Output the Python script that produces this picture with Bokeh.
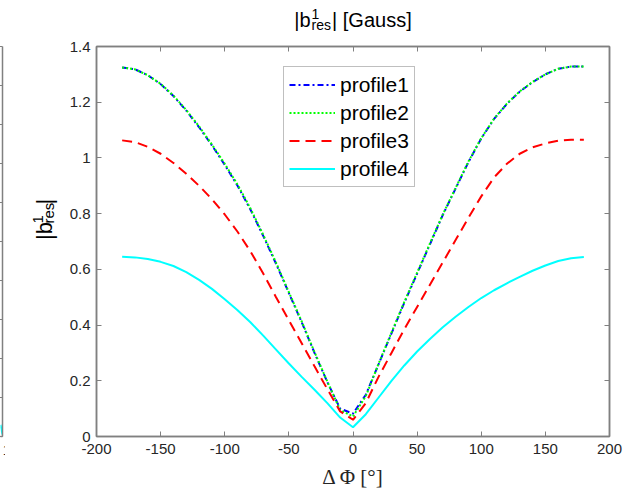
import math
from bokeh.plotting import figure
from bokeh.models import (Range1d, LinearAxis, FixedTicker, Legend, LegendItem)
from bokeh.layouts import row, column
from bokeh.core.properties import value
from bokeh.embed import file_html
from bokeh.resources import INLINE

# ---------------- data ----------------
delta_phi = [-180, -170, -160, -150, -140, -130, -120, -110, -100, -90, -80, -70, -60, -50, -40, -30, -20, -10,
             0, 10, 20, 30, 40, 50, 60, 70, 80, 90, 100, 110, 120, 130, 140, 150, 160, 170, 180]

profile1 = [1.325, 1.318, 1.297, 1.265, 1.222, 1.170, 1.110, 1.045, 0.975, 0.900, 0.815, 0.720, 0.620, 0.515, 0.410, 0.300, 0.195, 0.100,
            0.082, 0.150, 0.260, 0.370, 0.480, 0.585, 0.690, 0.795, 0.890, 0.985, 1.070, 1.140, 1.194, 1.238, 1.272, 1.300, 1.320, 1.328, 1.328]

profile2 = [1.325, 1.318, 1.297, 1.266, 1.224, 1.172, 1.113, 1.048, 0.979, 0.904, 0.819, 0.724, 0.624, 0.518, 0.413, 0.303, 0.197, 0.095,
            0.072, 0.145, 0.262, 0.373, 0.483, 0.588, 0.693, 0.797, 0.892, 0.987, 1.071, 1.141, 1.195, 1.239, 1.273, 1.300, 1.320, 1.328, 1.328]

profile3 = [1.063, 1.057, 1.040, 1.015, 0.982, 0.943, 0.900, 0.852, 0.797, 0.735, 0.665, 0.585, 0.500, 0.417, 0.335, 0.252, 0.170, 0.090,
            0.060, 0.120, 0.215, 0.300, 0.385, 0.465, 0.545, 0.625, 0.705, 0.785, 0.862, 0.930, 0.979, 1.015, 1.038, 1.052, 1.062, 1.065, 1.065]

profile4 = [0.645, 0.643, 0.637, 0.627, 0.612, 0.590, 0.562, 0.530, 0.493, 0.453, 0.410, 0.362, 0.312, 0.262, 0.214, 0.168, 0.120, 0.068,
            0.033, 0.080, 0.140, 0.200, 0.255, 0.305, 0.350, 0.392, 0.430, 0.465, 0.497, 0.525, 0.550, 0.573, 0.595, 0.614, 0.630, 0.640, 0.644]

series_names = ["profile1", "profile2", "profile3", "profile4"]

x_ticks = [-200, -150, -100, -50, 0, 50, 100, 150, 200]
x_tick_labels = ["-200", "-150", "-100", "-50", "0", "50", "100", "150", "200"]
y_ticks = [0, 0.2, 0.4, 0.6, 0.8, 1.0, 1.2, 1.4]
y_tick_labels = ["0", "0.2", "0.4", "0.6", "0.8", "1", "1.2", "1.4"]

title_parts = ["|b", "1", "res", "| [Gauss]"]
ylabel_parts = ["|b", "1", "res", "|"]
xlabel_text = "\u0394 \u03a6 [\u00b0]"

# fragment of the neighbouring subplot (cut at the left edge)
frag_x = [0.0, 1.0]
frag_y = [0.03, 0.005]
frag_ticks = [0.0, 0.1, 0.2, 0.3, 0.4, 0.5, 0.6, 0.7, 0.8, 0.9, 1.0]

# ---------------- style / layout ----------------
AX = "#808080"
TXT = "#262626"
FONT = "Liberation Sans"
W, H = 633, 493
TITLE_H = 34
FRAG_W = 5
YLAB_W = 57
LEFT, RIGHT, TOP, BOTTOM = 96, 609, 46, 436
ROW_H = H - TITLE_H
MAIN_W = W - FRAG_W - YLAB_W

ARIAL = {'|': .26, 'b': .556, '1': .556, 'r': .333, 'e': .556, 's': .5, ' ': .278,
         '[': .278, ']': .278, 'G': .778, 'a': .556, 'u': .556}


def tw(s, size):
    return sum(ARIAL.get(c, .556) for c in s) * size


def blank_fig(width, height, xr, yr):
    f = figure(width=width, height=height, x_range=Range1d(*xr), y_range=Range1d(*yr),
               toolbar_location=None, output_backend="svg",
               min_border_left=0, min_border_right=0, min_border_top=0, min_border_bottom=0,
               x_axis_location=None, y_axis_location=None)
    f.outline_line_color = None
    f.grid.visible = False
    f.background_fill_color = "white"
    f.border_fill_color = "white"
    return f


def txt(fig, xs, ys, texts, size, angle=0.0):
    fig.text(x=xs, y=ys, text=texts, text_font=value(FONT), text_font_size=f"{size}px",
             text_color="black", text_align="left", text_baseline="middle", angle=angle)


# ---------------- title figure: data y = TITLE_H - page y ----------------
T_MAIN, T_SCRIPT = 20, 14
tf = blank_fig(W, TITLE_H, (0, W), (0, TITLE_H))
w1 = tw(title_parts[0], T_MAIN)
w2 = max(tw(title_parts[1], T_SCRIPT), tw(title_parts[2], T_SCRIPT))
w3 = tw(title_parts[3], T_MAIN)
total = w1 + 1 + w2 + 1 + w3
x0 = (LEFT + RIGHT) / 2 - total / 2
txt(tf, [x0, x0 + w1 + 1 + w2 + 1], [TITLE_H - 19, TITLE_H - 19], [title_parts[0], title_parts[3]], T_MAIN)
txt(tf, [x0 + w1 + 1, x0 + w1 + 1], [TITLE_H - 13.5, TITLE_H - 24], [title_parts[1], title_parts[2]], T_SCRIPT)

# ---------------- y-label figure: data y = H - page y ----------------
Y_MAIN, Y_SCRIPT = 22, 15
yf = blank_fig(YLAB_W, ROW_H, (FRAG_W, FRAG_W + YLAB_W), (0, ROW_H))
v1 = tw(ylabel_parts[0], Y_MAIN)
v2 = max(tw(ylabel_parts[1], Y_SCRIPT), tw(ylabel_parts[2], Y_SCRIPT))
v3 = tw(ylabel_parts[3], Y_MAIN)
vt = v1 + 1.5 + v2 + 1.5 + v3
page_y0 = 238 + vt / 2          # bottom end of the rotated label (page px)
d0 = H - page_y0
ang = math.pi / 2
txt(yf, [43.5, 43.5], [d0, d0 + v1 + 1.5 + v2 + 1.5], [ylabel_parts[0], ylabel_parts[3]], Y_MAIN, ang)
txt(yf, [37.5, 48.0], [d0 + v1 + 1.5, d0 + v1 + 1.5], [ylabel_parts[1], ylabel_parts[2]], Y_SCRIPT, ang)

# ---------------- fragment figure ----------------
p0 = figure(width=FRAG_W, height=ROW_H, x_range=Range1d(0, 1), y_range=Range1d(0, 1),
            toolbar_location=None, output_backend="svg",
            min_border_left=0, min_border_right=FRAG_W - 2, min_border_top=TOP - TITLE_H,
            min_border_bottom=H - BOTTOM, x_axis_location=None, y_axis_location=None)
p0.outline_line_color = None
p0.background_fill_color = "white"
p0.border_fill_color = "white"
p0.grid.visible = False
ax0 = LinearAxis(ticker=FixedTicker(ticks=frag_ticks),
                 major_label_overrides={t: "" for t in frag_ticks},
                 major_label_text_font_size="1px",
                 major_label_standoff=0, major_tick_in=4, major_tick_out=0, minor_tick_line_color=None,
                 axis_line_color=AX, axis_line_width=1.5, major_tick_line_color=AX)
p0.add_layout(ax0, "right")
ax0b = LinearAxis(ticker=FixedTicker(ticks=[1.0]), major_label_overrides={1.0: "1", 1: "1"},
                  major_label_text_font=FONT, major_label_text_font_size="15px",
                  major_label_text_color=TXT, major_tick_in=4, major_tick_out=0,
                  minor_tick_line_color=None, axis_line_color=AX, axis_line_width=1.5,
                  major_tick_line_color=AX, major_label_standoff=8)
p0.add_layout(ax0b, "below")
p0.line(frag_x, frag_y, line_color="#00FFFF", line_width=2)

# ---------------- main figure ----------------
p = figure(width=MAIN_W, height=ROW_H, x_range=Range1d(-200, 200), y_range=Range1d(0, 1.4),
           toolbar_location=None, output_backend="svg",
           min_border_left=LEFT - FRAG_W - YLAB_W, min_border_right=W - RIGHT,
           min_border_top=TOP - TITLE_H, min_border_bottom=H - BOTTOM,
           x_axis_location=None, y_axis_location=None)
p.grid.visible = False
p.background_fill_color = "white"
p.border_fill_color = "white"
p.outline_line_color = AX
p.outline_line_width = 1.5


def make_axis(ticker, labels=True, overrides=None):
    a = LinearAxis(ticker=FixedTicker(ticks=ticker))
    a.axis_line_color = AX
    a.axis_line_width = 1.5
    a.major_tick_line_color = AX
    a.major_tick_line_width = 1
    a.major_tick_in = 5
    a.major_tick_out = 0
    a.minor_tick_line_color = None
    a.major_label_text_font = FONT
    a.major_label_text_color = TXT
    if labels:
        a.major_label_text_font_size = "15px"
        a.major_label_standoff = 7
        if overrides:
            a.major_label_overrides = overrides
    else:
        a.major_label_overrides = {t: "" for t in ticker}
        a.major_label_text_font_size = "1px"
        a.major_label_standoff = 0
    return a


xb = make_axis(x_ticks, overrides={t: l for t, l in zip(x_ticks, x_tick_labels)})
xb.axis_label = xlabel_text
xb.axis_label_text_font = "Liberation Serif"
xb.axis_label_text_font_size = "21px"
xb.axis_label_text_font_style = "normal"
xb.axis_label_text_color = TXT
xb.axis_label_standoff = 8
p.add_layout(xb, "below")
yl = make_axis(y_ticks, overrides={t: l for t, l in zip(y_ticks, y_tick_labels)})
yl.major_label_standoff = 6
p.add_layout(yl, "left")
p.add_layout(make_axis(x_ticks, labels=False), "above")
p.add_layout(make_axis(y_ticks, labels=False), "right")

styles = [
    dict(line_color="#0000FF", line_dash="6 3 2 3"),
    dict(line_color="#00FF00", line_dash="2 2"),
    dict(line_color="#FF0000", line_dash="10 6"),
    dict(line_color="#00FFFF", line_dash="solid"),
]
items = []
for name, ys, st in zip(series_names, [profile1, profile2, profile3, profile4], styles):
    r = p.line(delta_phi, ys, line_width=2, **st)
    items.append(LegendItem(label=name, renderers=[r]))

legend = Legend(items=items, location=(283 - LEFT, BOTTOM - 187))
legend.glyph_width = 46
legend.glyph_height = 25
legend.label_height = 25
legend.label_standoff = 5
legend.padding = 5
legend.spacing = 3
legend.margin = 0
legend.label_text_font = FONT
legend.label_text_font_size = "21px"
legend.label_text_color = "black"
legend.border_line_color = AX
legend.border_line_width = 1.5
legend.background_fill_color = "white"
legend.background_fill_alpha = 1.0
p.add_layout(legend)

layout = column(tf, row(p0, yf, p))
open("out.html", "w").write(file_html(layout, INLINE))
